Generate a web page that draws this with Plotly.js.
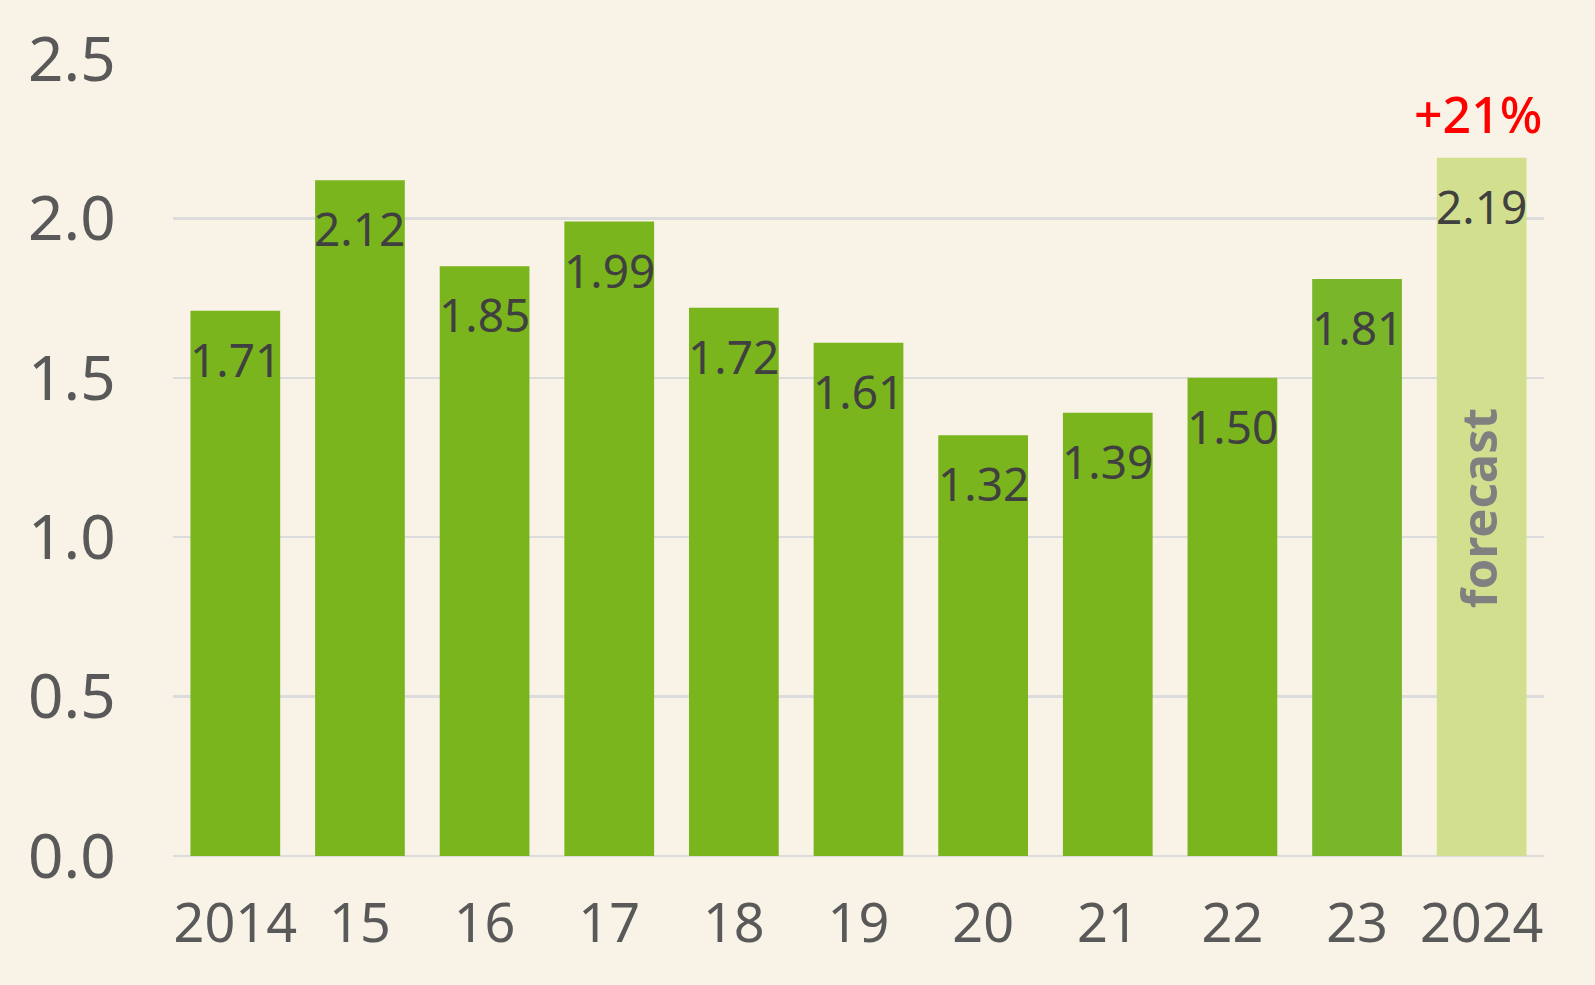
<!DOCTYPE html>
<html>
<head>
<meta charset="utf-8">
<script src="https://cdn.plot.ly/plotly-3.0.1.min.js"></script>
<style>html,body{margin:0;padding:0;background:#f8f3e6;}#chart{width:1595px;height:985px;}</style>
</head>
<body>
<div id="chart"></div>
<script>
const categories = ['2014','15','16','17','18','19','20','21','22','23','2024'];
const values = [1.71, 2.12, 1.85, 1.99, 1.72, 1.61, 1.32, 1.39, 1.50, 1.81, 2.19];
const barColors = ['#7ab51d','#7ab51d','#7ab51d','#7ab51d','#7ab51d','#7ab51d','#7ab51d','#7ab51d','#7ab51d','#79b62a','#d2df8f'];
const yTicks = [0, 0.5, 1.0, 1.5, 2.0, 2.5];
const yTickLabels = ['0.0','0.5','1.0','1.5','2.0','2.5'];
const growthLabel = '+21%';
const forecastLabel = 'forecast';

const FONT = 'Noto Sans, Open Sans, sans-serif';
const xs = categories.map((c, i) => i);

const trace = {
  type: 'bar',
  x: xs,
  y: values,
  width: 0.72,
  marker: {color: barColors, line: {width: 0}},
  hoverinfo: 'none'
};

const annotations = values.map((v, i) => ({
  x: xs[i], y: v, xref: 'x', yref: 'y',
  text: v.toFixed(2), showarrow: false,
  yanchor: 'top', yshift: -15,
  font: {family: FONT, size: 46, color: '#404040'}
}));
const last = categories.length - 1;
annotations.push({
  x: xs[last], y: values[last], xref: 'x', yref: 'y',
  text: growthLabel, showarrow: false, yanchor: 'bottom', yshift: 8, xshift: -4,
  font: {family: FONT, size: 50, color: '#ff0000', weight: 500}
});
annotations.push({
  x: xs[last], y: 1.09, xref: 'x', yref: 'y',
  text: '<b>' + forecastLabel + '</b>', showarrow: false, textangle: -90,
  xshift: -4,
  font: {family: FONT, size: 49, color: '#808080'}
});

const layout = {
  width: 1595, height: 985,
  paper_bgcolor: '#f8f3e6', plot_bgcolor: '#f8f3e6',
  margin: {l: 173, r: 51, t: 59, b: 129, pad: 0},
  showlegend: false,
  xaxis: {
    range: [-0.5, categories.length - 0.5],
    tickvals: xs, ticktext: categories,
    showgrid: false, zeroline: false, showline: false,
    ticks: 'outside', ticklen: 20, tickcolor: 'rgba(0,0,0,0)',
    tickfont: {family: FONT, size: 54, color: '#595959'}
  },
  yaxis: {
    range: [0, 2.5], tickvals: yTicks, ticktext: yTickLabels,
    showgrid: true, gridcolor: '#dcdcdc', gridwidth: 2.5,
    zeroline: true, zerolinecolor: '#dcdcdc', zerolinewidth: 2.5,
    showline: false,
    ticks: 'outside', ticklen: 44, tickcolor: 'rgba(0,0,0,0)',
    tickfont: {family: FONT, size: 62, color: '#595959'}
  },
  annotations: annotations
};

Plotly.newPlot('chart', [trace], layout, {displayModeBar: false, staticPlot: true});
</script>
</body>
</html>
